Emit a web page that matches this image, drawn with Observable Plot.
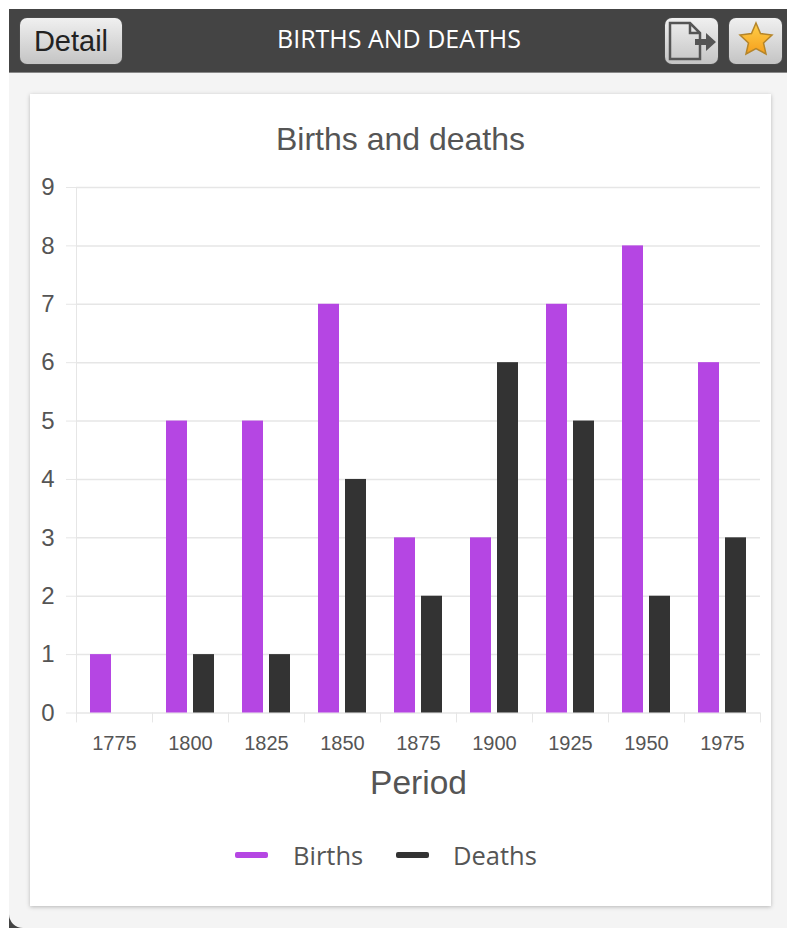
<!DOCTYPE html>
<html><head><meta charset="utf-8">
<script src="https://cdn.jsdelivr.net/npm/d3@7"></script>
<script src="https://cdn.jsdelivr.net/npm/@observablehq/plot@0.6"></script>
<style>
html,body{margin:0;padding:0;background:#fff;width:787px;height:928px;overflow:hidden}
body{position:relative}
.abs{position:absolute;white-space:nowrap}
#shell{left:9px;top:9px;width:778px;height:919px;background:#444}
#body{left:9px;top:72px;width:778px;height:856px;background:#f4f4f4;border-top:1px solid #888;box-sizing:border-box;border-bottom-left-radius:14px}
#card{left:30px;top:94px;width:741px;height:812px;background:#fff;box-shadow:0 1px 4px rgba(0,0,0,.25)}
.btn{top:18px;height:46px;border-radius:7px;background:linear-gradient(#f0f0f0,#c4c4c4);box-shadow:0 0 1px #888}
#detail{left:20px;width:102px;text-align:center;font:29px/46px "Liberation Sans";color:#222}
#hdr{left:199px;width:400px;top:22px;text-align:center;color:#fff;font:25px/32px "Open Sans"}
#ttl{left:30px;width:741px;top:120px;text-align:center;font:32px/38px "Liberation Sans";color:#555}
#plot{left:0;top:160px}
.sw{top:852px;width:33px;height:6px;border-radius:2px}
.lg{top:838px;font:25.5px/34px "Open Sans";color:#555}
svg text{font-family:"Liberation Sans"}
g[aria-label="fx-axis label"] text{font-size:33.5px}
</style></head><body>
<div class="abs" id="shell"></div>
<div class="abs" id="body"></div>
<div class="abs" id="card"></div>
<div class="abs btn" id="detail">Detail</div>
<div class="abs" id="hdr">BIRTHS AND DEATHS</div>
<div class="abs btn" style="left:665px;width:53px"><svg width="53" height="46" viewBox="0 0 53 46"><path d="M5 5H25L35 15V41H5Z M25 5V15H35" fill="none" stroke="#555" stroke-width="2.5"/><path d="M30 21H41V15L51 24L41 33V27H30Z" fill="#555"/></svg></div>
<div class="abs btn" style="left:729px;width:53px"><svg width="53" height="46" viewBox="0 0 53 46"><defs><linearGradient id="g" x1="0" y1="0" x2="0" y2="1"><stop offset="0" stop-color="#ffd04a"/><stop offset="1" stop-color="#f59f1c"/></linearGradient></defs><path d="M27 5L31.5 15.5L43 17L34.5 25L37 36L27 30.5L17 36L19.5 25L11 17L22.5 15.5Z" fill="url(#g)" stroke="#b5852a" stroke-width="1.5"/></svg></div>
<div class="abs" id="ttl">Births and deaths</div>
<div class="abs" id="plot"></div>
<div class="abs sw" style="left:235px;background:#b546e3"></div>
<div class="abs lg" style="left:293px">Births</div>
<div class="abs sw" style="left:396px;background:#333"></div>
<div class="abs lg" style="left:453px">Deaths</div>
<script>
const periods = ["1775","1800","1825","1850","1875","1900","1925","1950","1975"];
const births = [1,5,5,7,3,3,7,8,6];
const deaths = [0,1,1,4,2,6,5,2,3];
const seriesNames = ["Births","Deaths"];
const seriesColors = ["#b546e3","#333333"];
const yTicks = [0,1,2,3,4,5,6,7,8,9];
const rows = periods.flatMap((p,i)=>[
  {period:p,series:"Births",value:births[i]},
  {period:p,series:"Deaths",value:deaths[i]}
]);
const grid = "#e6e6e6", ink = "#555";
const chart = Plot.plot({
  width:787, height:700,
  marginLeft:76, marginRight:27, marginTop:27, marginBottom:147.5,
  style:{background:"transparent",overflow:"visible"},
  fx:{domain:periods,padding:0,label:null},
  x:{domain:seriesNames,paddingInner:0.22,paddingOuter:0.49,axis:null,label:null},
  y:{domain:[0,9],axis:null,label:null},
  color:{domain:seriesNames,range:seriesColors},
  marks:[
    Plot.ruleY(yTicks,{stroke:grid,strokeWidth:1.5}),
    Plot.ruleX(periods.slice(0,1),{x:null,fx:d=>d,y1:-0.17,y2:9,dx:-38,stroke:grid,strokeWidth:1}),
    Plot.barY(rows,{fx:"period",x:"series",y:"value",fill:"series"}),
    Plot.ruleX(periods.slice(1),{x:null,fx:d=>d,y1:0,y2:-0.17,dx:-38,stroke:grid,strokeWidth:1}),
    Plot.ruleX(periods.slice(-1),{x:null,fx:d=>d,y1:0,y2:-0.17,dx:38,stroke:grid,strokeWidth:1}),
    Plot.axisY({ticks:yTicks,tickSize:10,tickPadding:12,stroke:grid,color:ink,fontSize:24,label:null,tickFormat:d=>d}),
    Plot.axisFx({anchor:"bottom",tickSize:0,tickPadding:23,fontSize:20,color:ink,label:"Period",labelAnchor:"center",labelArrow:"none",labelOffset:81})
  ]
});
document.getElementById("plot").appendChild(chart);
</script>
</body></html>
